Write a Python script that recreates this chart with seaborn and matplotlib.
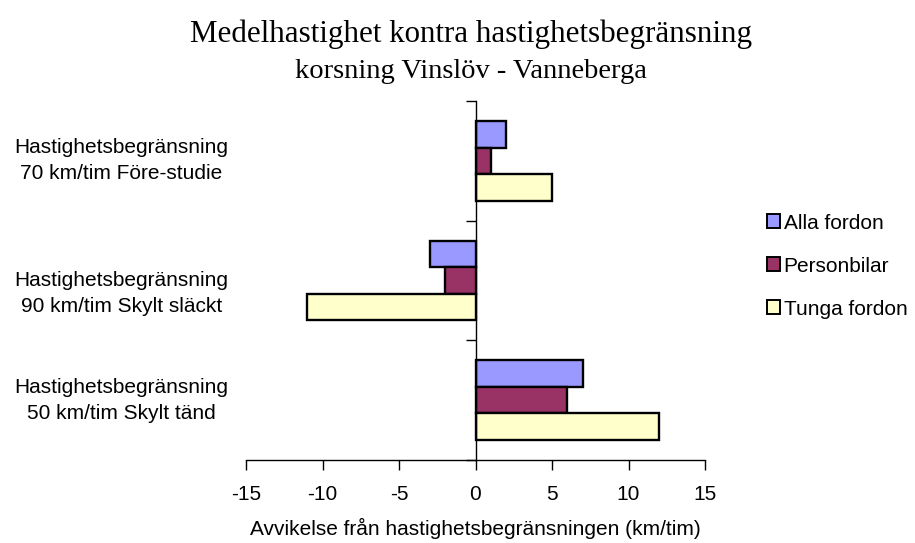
import pandas as pd
import numpy as np
import matplotlib.pyplot as plt
import matplotlib.transforms as mtransforms
import seaborn as sns
from matplotlib.patches import Patch

# Data
kategorier = ["Hastighetsbegränsning\n70 km/tim Före-studie",
              "Hastighetsbegränsning\n90 km/tim Skylt släckt",
              "Hastighetsbegränsning\n50 km/tim Skylt tänd"]
serier = ["Alla fordon", "Personbilar", "Tunga fordon"]
alla_fordon = [2, -3, 7]
personbilar = [1, -2, 6]
tunga_fordon = [5, -11, 12]
farger = ["#9999FF", "#993366", "#FFFFCC"]
x_ticks = [-15, -10, -5, 0, 5, 10, 15]

# Long format table for seaborn
rows = []
for serie, vals in zip(serier, [alla_fordon, personbilar, tunga_fordon]):
    for kat, v in zip(kategorier, vals):
        rows.append({"kategori": kat, "serie": serie, "varde": v})
df = pd.DataFrame(rows)

sns.set_theme(style="white")
plt.rcParams["font.family"] = ["Liberation Sans", "DejaVu Sans"]
plt.rcParams["text.color"] = "black"

fig = plt.figure(figsize=(9.15, 5.43), dpi=100)
ax = fig.add_axes([246 / 915, 1 - 460 / 543, 459 / 915, 359 / 543])

sns.barplot(data=df, y="kategori", x="varde", hue="serie", orient="h",
            order=kategorier, hue_order=serier, palette=farger, saturation=1,
            width=2 / 3, edgecolor="black", linewidth=1.7,
            errorbar=None, legend=False, ax=ax)

fs = 15
ax.set_xlim(-15, 15)
ax.set_ylim(2.5, -0.5)
ax.set_xticks(x_ticks)
ax.set_xticklabels([str(t) for t in x_ticks], fontsize=fs)
ax.set_xlabel("Avvikelse från hastighetsbegränsningen (km/tim)", fontsize=fs,
              labelpad=10, color="black")
ax.set_ylabel("")

# Axes styling like the original
for s in ["top", "right"]:
    ax.spines[s].set_visible(False)
ax.spines["left"].set_position(("data", 0))
for s in ["left", "bottom"]:
    ax.spines[s].set_color("black")
    ax.spines[s].set_linewidth(1.0)

# centre ticks (pointing in), boundary ticks pointing out
ax.set_yticks(range(len(kategorier)))
ax.set_yticklabels([])
ax.set_yticks([-0.5, 0.5, 1.5, 2.5], minor=True)
ax.tick_params(axis="y", which="major", direction="in", length=4, width=1,
               color="black")
ax.tick_params(axis="y", which="minor", direction="out", length=7, width=1,
               color="black", left=True)
ax.tick_params(axis="x", direction="out", length=7, width=1, color="black",
               bottom=True, labelcolor="black", pad=11)

# category labels, centred left of the plot (middle one sits a bit lower, as in Excel)
trans = mtransforms.blended_transform_factory(ax.transAxes, ax.transData)
for i, kat in enumerate(kategorier):
    dy = 0.11 if i == 1 else 0.0
    ax.text(-0.272, i + dy, kat, transform=trans, ha="center", va="center",
            fontsize=fs, multialignment="center", linespacing=1.45)

# Legend
handles = [Patch(facecolor=c, edgecolor="black", linewidth=1.4) for c in farger]
fig.legend(handles, serier, loc="center left", bbox_to_anchor=(0.829, 0.51),
           frameon=False, fontsize=fs, handlelength=0.65, handleheight=0.65,
           handletextpad=0.15, labelspacing=1.15, borderaxespad=0)

# Titles
fig.text(0.515, 0.937, "Medelhastighet kontra hastighetsbegränsning",
         ha="center", va="center", fontsize=22.3, color="black",
         family=["Liberation Serif", "DejaVu Serif"])
fig.text(0.515, 0.868, "korsning Vinslöv - Vanneberga",
         ha="center", va="center", fontsize=20.5, color="black",
         family=["Liberation Serif", "DejaVu Serif"])

fig.savefig("out.png", dpi=100)
